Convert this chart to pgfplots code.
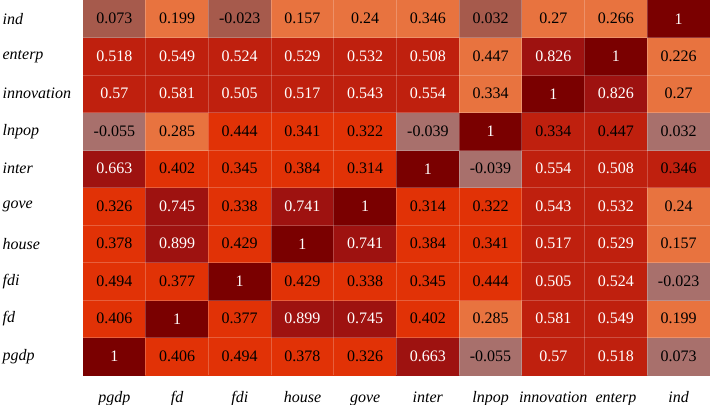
\documentclass[border=0pt]{standalone}
\usepackage{fontspec}
\setmainfont{Liberation Serif}
\usepackage{pgfplots}
\usepackage{pgfplotstable}
\pgfplotsset{compat=1.18}
\pgfplotstableread{
x y c v
0 0 6 1
1 0 3 0.406
2 0 3 0.494
3 0 3 0.378
4 0 3 0.326
5 0 5 0.663
6 0 1 -0.055
7 0 4 0.57
8 0 4 0.518
9 0 1 0.073
0 1 3 0.406
1 1 6 1
2 1 3 0.377
3 1 5 0.899
4 1 5 0.745
5 1 3 0.402
6 1 2 0.285
7 1 4 0.581
8 1 4 0.549
9 1 2 0.199
0 2 3 0.494
1 2 3 0.377
2 2 6 1
3 2 3 0.429
4 2 3 0.338
5 2 3 0.345
6 2 3 0.444
7 2 4 0.505
8 2 4 0.524
9 2 1 -0.023
0 3 3 0.378
1 3 5 0.899
2 3 3 0.429
3 3 6 1
4 3 5 0.741
5 3 3 0.384
6 3 3 0.341
7 3 4 0.517
8 3 4 0.529
9 3 2 0.157
0 4 3 0.326
1 4 5 0.745
2 4 3 0.338
3 4 5 0.741
4 4 6 1
5 4 3 0.314
6 4 3 0.322
7 4 4 0.543
8 4 4 0.532
9 4 2 0.24
0 5 5 0.663
1 5 3 0.402
2 5 3 0.345
3 5 3 0.384
4 5 3 0.314
5 5 6 1
6 5 1 -0.039
7 5 4 0.554
8 5 4 0.508
9 5 4 0.346
0 6 1 -0.055
1 6 2 0.285
2 6 3 0.444
3 6 3 0.341
4 6 3 0.322
5 6 1 -0.039
6 6 6 1
7 6 4 0.334
8 6 4 0.447
9 6 1 0.032
0 7 4 0.57
1 7 4 0.581
2 7 4 0.505
3 7 4 0.517
4 7 4 0.543
5 7 4 0.554
6 7 2 0.334
7 7 6 1
8 7 5 0.826
9 7 2 0.27
0 8 4 0.518
1 8 4 0.549
2 8 4 0.524
3 8 4 0.529
4 8 4 0.532
5 8 4 0.508
6 8 2 0.447
7 8 5 0.826
8 8 6 1
9 8 2 0.226
0 9 0 0.073
1 9 2 0.199
2 9 0 -0.023
3 9 2 0.157
4 9 2 0.24
5 9 2 0.346
6 9 0 0.032
7 9 2 0.27
8 9 2 0.266
9 9 6 1
}\corr
\begin{document}
\begin{tikzpicture}
\begin{axis}[
  name=ax,
  scale only axis,
  width=313.5pt, height=187.5pt,
  xmin=-0.5, xmax=9.5, ymin=-0.5, ymax=9.5,
  enlargelimits=false,
  axis line style={draw=none},
  major tick length=0pt, minor tick length=0pt,
  xtick={0,...,9}, ytick={0,...,9},
  xticklabels={pgdp,fd,fdi,house,gove,inter,lnpop,innovation,enterp,ind},
  yticklabels={pgdp,fd,fdi,house,gove,inter,lnpop,innovation,enterp,ind},
  minor xtick={0.5,1.5,...,8.5}, minor ytick={0.5,1.5,...,8.5},
  xminorgrids, yminorgrids,
  minor grid style={white, opacity=0.22, line width=0.5pt},
  axis on top,
  ticklabel style={font=\fontsize{8}{10}\selectfont\itshape},
  yticklabel style={text width=38.5pt, align=left, inner sep=1.5pt, anchor=east},
  xticklabel style={text height=1.6ex, text depth=0.5ex, anchor=north, yshift=-3pt},
  colormap={cells}{rgb255=(166,90,76) rgb255=(168,112,108) rgb255=(232,115,63) rgb255=(225,50,6) rgb255=(191,32,14) rgb255=(158,18,16) rgb255=(122,0,0)},
  colormap access=direct,
]
\addplot[matrix plot*, mesh/cols=10, mesh/ordering=x varies, point meta=explicit] table[x=x, y=y, meta=c] {\corr};
\addplot[draw=none, mark=none,
  point meta=explicit symbolic,
  visualization depends on={\thisrow{v} \as \val},
  nodes near coords={\ifdim\val pt>0.5pt\color{white}\fi\pgfplotspointmeta},
  every node near coord/.append style={anchor=center, font=\fontsize{8}{10}\selectfont, text=black},
] table[x=x, y=y, meta=v] {\corr};
\end{axis}
\pgfresetboundingbox
\path (ax.south west) ++(-41.5pt,-14.5pt) rectangle (ax.north east);
\end{tikzpicture}
\end{document}
